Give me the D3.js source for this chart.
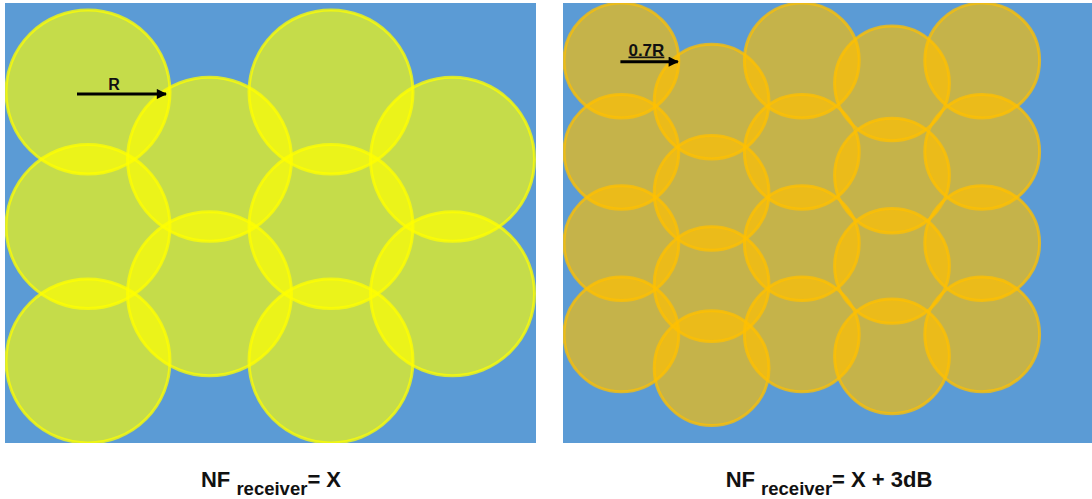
<!DOCTYPE html>
<html>
<head>
<meta charset="utf-8">
<script src="https://cdn.jsdelivr.net/npm/d3@7"></script>
<style>
  html, body { margin: 0; padding: 0; background: #fff; }
  svg { display: block; }
</style>
</head>
<body>
<svg id="chart"></svg>
<script>
// Cell layout, in grid units (column, row)
const leftCols  = [0, 0, 0, 1, 1, 2, 2, 2, 3, 3];
const leftRows  = [0, 1, 2, 0.5, 1.5, 0, 1, 2, 0.5, 1.5];
const rightCols = [0, 0, 0, 0, 1, 1, 1, 1, 2, 2, 2, 2, 3, 3, 3, 3, 4, 4, 4, 4];
const rightRows = [0, 1, 2, 3, 0.45, 1.45, 2.45, 3.37, 0, 1, 2, 3, 0.25, 1.26, 2.25, 3.24, 0, 1, 2, 3];
// Cell radius relative to R
const radiusRatio  = [1, 0.7];
const radiusLabels = ['R', '0.7R'];
const captionMain  = ['NF', 'NF'];
const captionSub   = ['receiver', 'receiver'];
const captionRest  = ['= X', '= X + 3dB'];

const W = 1092, H = 499;
const R = 82;
const BLUE = '#5b9bd5';

const svg = d3.select('#chart').attr('width', W).attr('height', H);

const defs = svg.append('defs');
defs.append('marker')
    .attr('id', 'head')
    .attr('viewBox', '0 0 10 10')
    .attr('refX', 9).attr('refY', 5)
    .attr('markerWidth', 4).attr('markerHeight', 3.4)
    .attr('markerUnits', 'strokeWidth')
    .attr('orient', 'auto')
    .append('path').attr('d', 'M0,0 L10,5 L0,10 Z').attr('fill', '#000');

const panels = [
    {
        rect: [5, 3, 536, 443],
        cols: leftCols, rows: leftRows,
        x: d3.scaleLinear().domain([0, 3]).range([88, 452.5]),
        y: d3.scaleLinear().domain([0, 2]).range([92, 361]),
        fill: '#ffff00',
        arrowFrom: -11, arrowTo: -4, arrowDy: 2,
        labelDx: 26, labelDy: -2.5, labelSize: 16, labelWeight: 'bold', underline: false,
        capX: 271,
    },
    {
        rect: [563, 3, 1092, 443],
        cols: rightCols, rows: rightRows,
        x: d3.scaleLinear().domain([0, 4]).range([621.4, 982.2]),
        y: d3.scaleLinear().domain([0, 3]).range([60.5, 334.4]),
        fill: '#ffc000',
        arrowFrom: -1, arrowTo: -1, arrowDy: 1.2,
        labelDx: 25, labelDy: -5, labelSize: 17, labelWeight: 'bold', underline: true,
        capX: 829,
    },
];

panels.forEach((p, i) => {
    const [x0, y0, x1, y1] = p.rect;
    const r = R * radiusRatio[i];

    defs.append('clipPath').attr('id', 'clip' + i)
        .append('rect').attr('x', x0).attr('y', y0).attr('width', x1 - x0).attr('height', y1 - y0);

    const g = svg.append('g').attr('clip-path', `url(#clip${i})`);
    g.append('rect')
        .attr('x', x0).attr('y', y0).attr('width', x1 - x0).attr('height', y1 - y0)
        .attr('fill', BLUE);

    const cells = p.cols.map((c, k) => ({ c, r: p.rows[k] }));
    g.selectAll('circle')
        .data(cells)
        .join('circle')
        .attr('cx', d => p.x(d.c))
        .attr('cy', d => p.y(d.r))
        .attr('r', r)
        .attr('fill', p.fill).attr('fill-opacity', 0.65)
        .attr('stroke', p.fill).attr('stroke-opacity', 0.75)
        .attr('stroke-width', 3);

    // radius arrow from the first cell's centre
    const cx = p.x(cells[0].c), cy = p.y(cells[0].r);
    svg.append('line')
        .attr('x1', cx + p.arrowFrom).attr('x2', cx + r + p.arrowTo)
        .attr('y1', cy + p.arrowDy).attr('y2', cy + p.arrowDy)
        .attr('stroke', '#000').attr('stroke-width', 3)
        .attr('marker-end', 'url(#head)');
    svg.append('text')
        .attr('x', cx + p.labelDx).attr('y', cy + p.labelDy)
        .attr('text-anchor', 'middle')
        .attr('font-family', '"Liberation Sans", Arial, sans-serif')
        .attr('font-size', p.labelSize).attr('font-weight', p.labelWeight)
        .attr('fill', '#111')
        .style('text-decoration', p.underline ? 'underline' : 'none')
        .text(radiusLabels[i]);

    // caption
    const cap = svg.append('text')
        .attr('x', p.capX).attr('y', 486.5)
        .attr('text-anchor', 'middle')
        .attr('font-family', '"Liberation Sans", Arial, sans-serif')
        .attr('font-weight', 'bold').attr('fill', '#111');
    cap.append('tspan').attr('font-size', 22).text(captionMain[i] + ' ');
    cap.append('tspan').attr('font-size', 18.5).attr('dy', 8.5).text(captionSub[i]);
    cap.append('tspan').attr('font-size', 22).attr('dy', -8.5).text(captionRest[i]);
});
</script>
</body>
</html>
